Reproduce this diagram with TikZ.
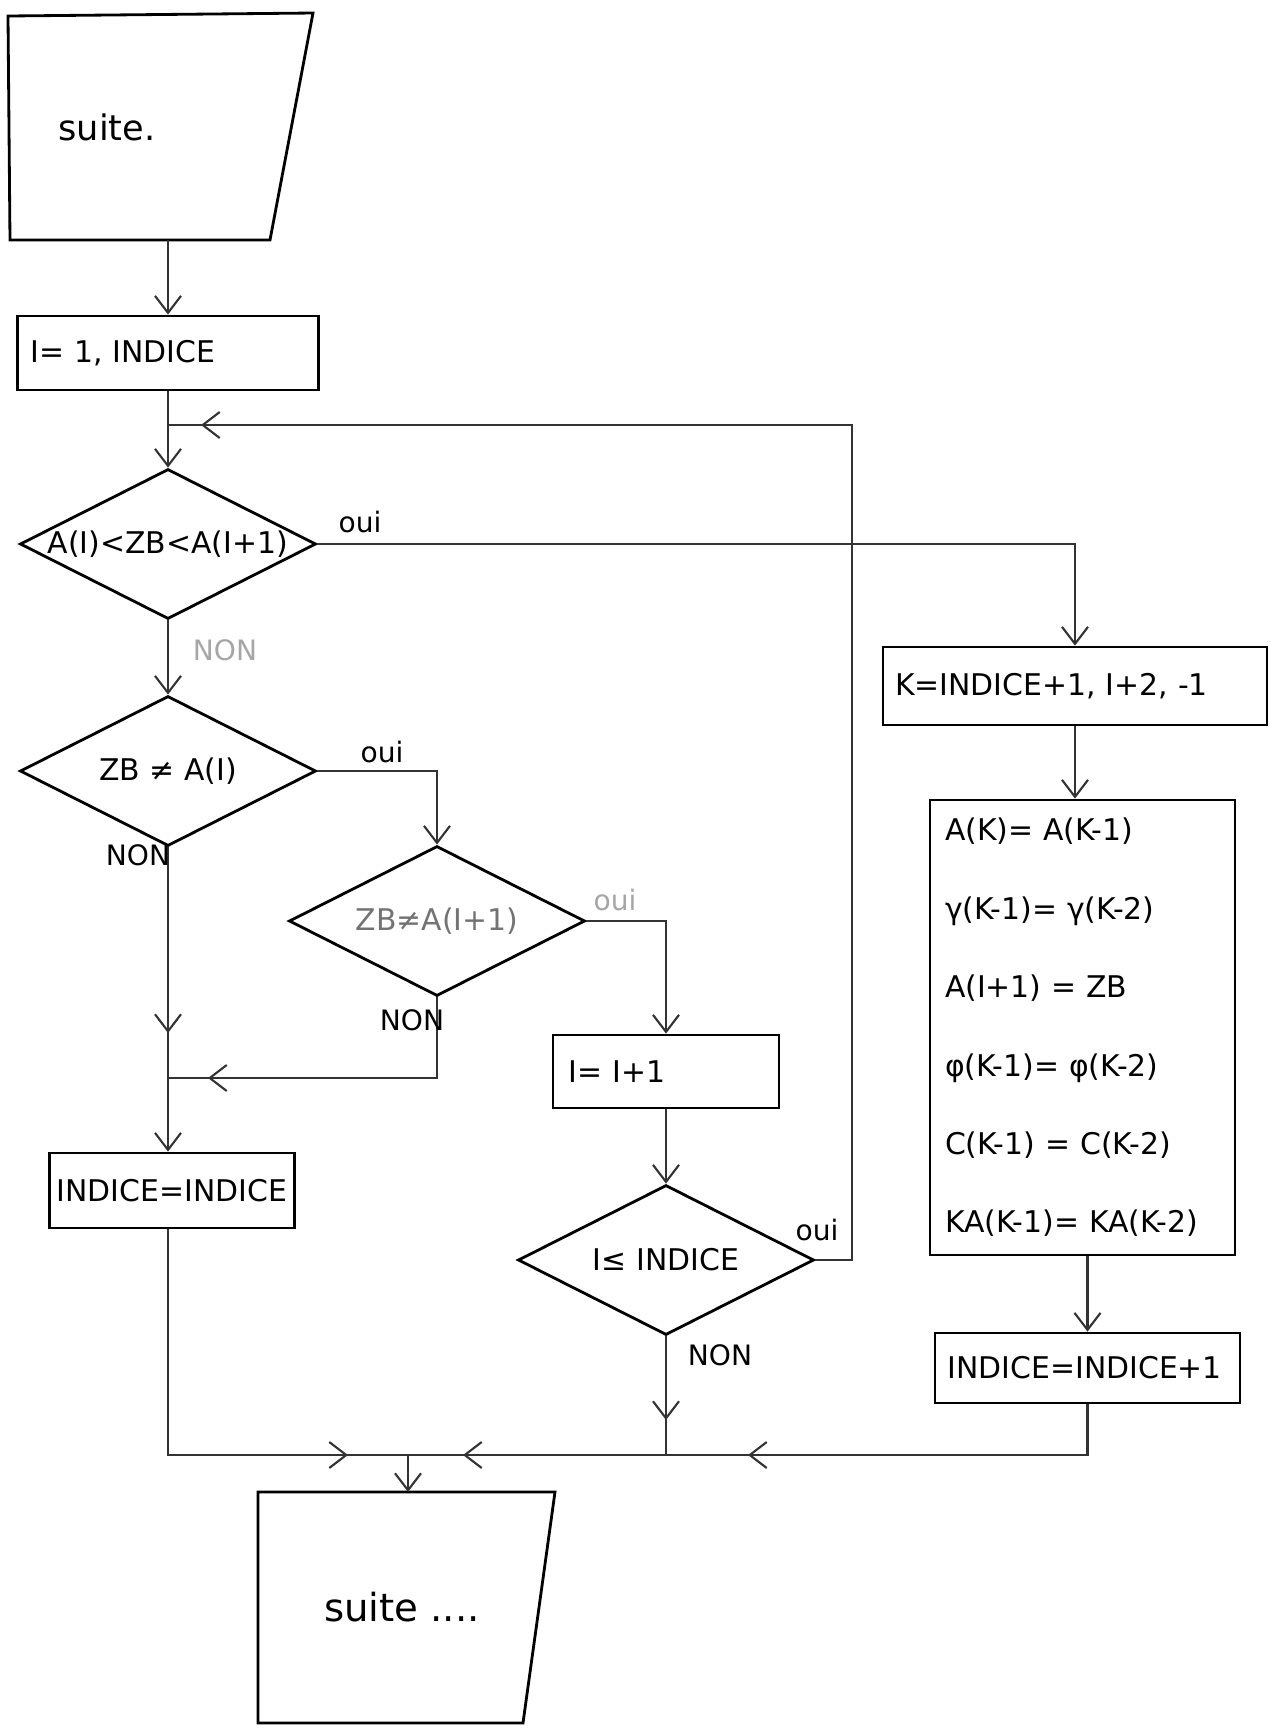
\documentclass[tikz,border=0pt]{standalone}
\usepackage{fontspec}
\setmainfont{DejaVu Sans}
\usetikzlibrary{arrows.meta,positioning,decorations.markings,shapes.geometric}

\begin{document}
\begin{tikzpicture}[x=1cm, y=-1cm,
  font=\fontsize{8.5}{10}\selectfont,
  box/.style={draw, thick, rectangle, inner sep=2pt},
  decision/.style={draw, thick, diamond, inner sep=0pt,
    minimum width=2.96cm, minimum height=1.5cm},
  iobox/.style={draw, thick},
  flow/.style={semithick, draw=black!80, -{Straight Barb[length=1.7mm,width=2.6mm]}},
  line/.style={semithick, draw=black!80},
  tipat/.style={postaction={decorate, decoration={markings,
    mark=at position #1 with {\arrow{Straight Barb[length=1.7mm,width=2.6mm]}}}}},
  answer/.style={font=\fontsize{8}{9}\selectfont},
  faint/.style={text=black!35}
]
\useasboundingbox (0,0) rectangle (12.72,17.28);

% Entry and first loop test
\draw[iobox] (0.08,0.16) -- (3.13,0.13) -- (2.70,2.40) -- (0.10,2.40) -- cycle;
\node[font=\fontsize{10}{12}\selectfont] (suite1) at (1.07,1.27) {suite.};
\coordinate (out1) at (1.68,2.40);
\node[box, minimum width=3.01cm, minimum height=0.74cm, text width=2.75cm,
  align=left] (init) at (1.68,3.53) {I= 1, INDICE};
\node[decision, label=center:{A(I)<ZB<A(I+1)}] (test1) at (1.68,5.44) {};
\node[decision, label=center:{ZB ≠ A(I)}] (test2) at (1.68,7.71) {};
\node[decision, label={[text=black!55]center:{ZB≠A(I+1)}}] (test3) at (4.37,9.21) {};
\node[box, minimum width=2.25cm, minimum height=0.75cm] (keep) at (1.72,11.905) {INDICE=INDICE};
\node[box, minimum width=2.26cm, minimum height=0.73cm, text width=1.95cm,
  align=left] (next) at (6.66,10.715) {I= I+1};
\node[decision, label=center:{I≤ INDICE}] (test4) at (6.66,12.60) {};

% Shift to make room
\node[box, minimum width=3.84cm, minimum height=0.78cm, text width=3.6cm,
  align=left] (loopk) at (10.75,6.86) {K=INDICE+1, I+2, -1};
\node[box, minimum width=3.05cm, minimum height=4.55cm, text width=2.75cm,
  align=left, font=\fontsize{8.5}{22.3}\selectfont] (shift) at (10.825,10.275)
  {A(K)= A(K-1)\\ γ(K-1)= γ(K-2)\\ A(I+1) = ZB\\ φ(K-1)= φ(K-2)\\
   C(K-1) = C(K-2)\\ KA(K-1)= KA(K-2)};
\node[box, minimum width=3.05cm, minimum height=0.70cm, text width=2.8cm,
  align=left] (incr) at (10.875,13.68) {INDICE=INDICE+1};

% Exit
\draw[iobox] (2.58,14.92) -- (5.55,14.92) -- (5.23,17.23) -- (2.58,17.23) -- cycle;
\node[font=\fontsize{11}{13}\selectfont] (suite2) at (4.02,16.07) {suite ....};
\coordinate (in2) at (4.08,14.92);

\coordinate (back) at (1.68,4.25);
\coordinate (rise) at (8.52,4.25);
\coordinate (merge1) at (1.68,10.78);
\coordinate (merge2) at (4.08,14.55);

% Connectors
\draw[flow] (out1) -- (init.north);
\draw[flow] (init.south) -- (test1.north);
\draw[flow] (test1.east) -| (loopk.north);
\draw[flow] (test1.south) -- (test2.north);
\draw[flow] (test2.east) -| (test3.north);
\draw[line, tipat=-0.45cm] (test2.south) -- (merge1);
\draw[line, tipat=-0.4cm] (test3.south) |- (merge1);
\draw[flow] (merge1) -- (merge1 |- keep.north);
\draw[flow] (test3.east) -| (next.north);
\draw[flow] (next.south) -- (test4.north);
\draw[line, tipat=-0.33cm] (test4.east) -| (rise) -- (back);
\draw[line, tipat=-0.6cm] (merge1 |- keep.south) |- (merge2);
\draw[line, tipat=-0.35cm] (test4.south) -- (test4.south |- merge2);
\draw[line, tipat=-3.4cm, tipat=-0.55cm] (incr.south) |- (merge2);
\draw[flow] (merge2) -- (in2);
\draw[flow] (loopk.south) -- (loopk.south |- shift.north);
\draw[flow] (shift.south -| incr.north) -- (incr.north);

% Branch labels
\node[answer] (oui1) at (3.6,5.22) {oui};
\node[answer, faint] (non1) at (2.25,6.5) {NON};
\node[answer] (oui2) at (3.82,7.52) {oui};
\node[answer] (non2) at (1.38,8.55) {NON};
\node[answer, faint] (oui3) at (6.15,9.0) {oui};
\node[answer] (non3) at (4.12,10.2) {NON};
\node[answer] (oui4) at (8.17,12.3) {oui};
\node[answer] (non4) at (7.2,13.55) {NON};

\end{tikzpicture}
\end{document}
